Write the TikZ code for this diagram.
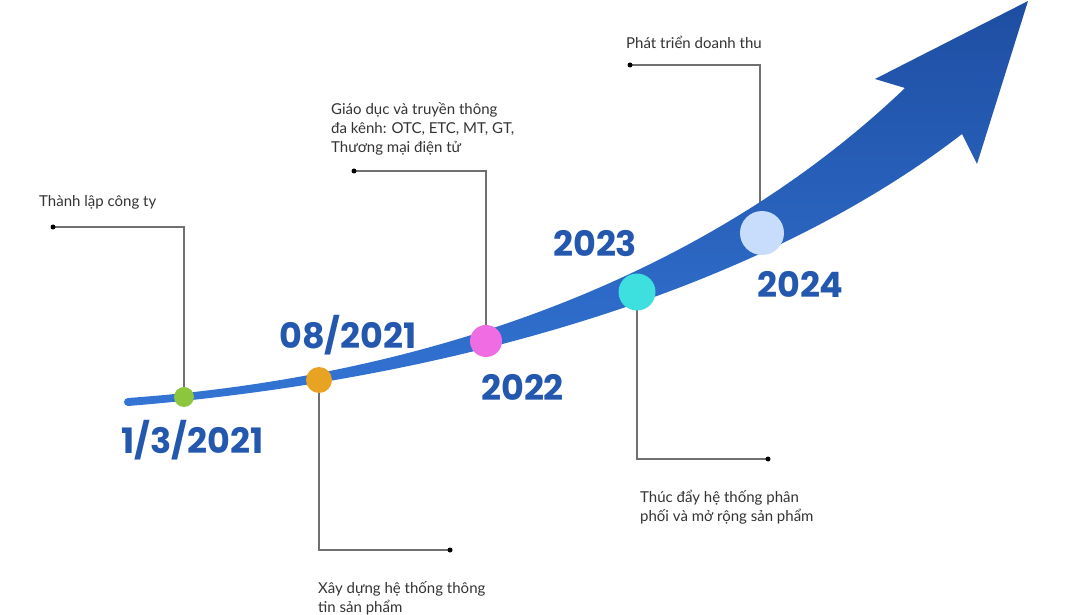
\documentclass[tikz,border=0pt]{standalone}
\usepackage{fontspec}
\setmainfont{Lato}
\newfontfamily\yearfont{Poppins}
\usetikzlibrary{backgrounds}
\definecolor{bandlight}{HTML}{3374D4}
\definecolor{banddark}{HTML}{1E4EA2}
\definecolor{yearblue}{HTML}{2358AE}
\definecolor{leadgray}{HTML}{707070}
\definecolor{textgray}{HTML}{333333}
\definecolor{mgreen}{HTML}{8CC63F}
\definecolor{morange}{HTML}{E8A323}
\definecolor{mpink}{HTML}{F06CE2}
\definecolor{mcyan}{HTML}{3EDFDF}
\definecolor{mlight}{HTML}{C8DCFB}
\tikzset{
  lead/.style={draw=leadgray, line width=1.4pt},
  enddot/.style={circle, fill=black, inner sep=0pt, minimum size=5pt},
  milestone/.style={circle, inner sep=0pt, minimum size=#1},
  lbl/.style={font=\fontsize{15}{19}\selectfont, text=textgray, anchor=base west, inner sep=0pt, align=left},
  yearlbl/.style={font=\yearfont\bfseries\fontsize{35}{35}\selectfont, text=yearblue, anchor=base west, inner sep=0pt}
}
\begin{document}
\begin{tikzpicture}[x=1pt,y=-1pt]
\useasboundingbox (0,0) rectangle (1072,615);
% milestones
\node[milestone=20pt, fill=mgreen] (m1) at (184,397) {};
\node[milestone=26pt, fill=morange] (m2) at (319,380) {};
\node[milestone=32pt, fill=mpink] (m3) at (486,341) {};
\node[milestone=37pt, fill=mcyan] (m4) at (637,292) {};
\node[milestone=44pt, fill=mlight] (m5) at (762,233) {};
% leader ends
\node[enddot] (e1) at (53,227) {};
\node[enddot] (e2) at (450,550) {};
\node[enddot] (e3) at (354,171) {};
\node[enddot] (e4) at (768,459) {};
\node[enddot] (e5) at (630,65) {};
% texts (base = last line)
\node[lbl] (t1) at (39,207) {Thành lập công ty};
\node[lbl] (t2) at (318,612) {Xây dựng hệ thống thông\\tin sản phẩm};
\node[lbl] (t3) at (331,153) {Giáo dục và truyền thông\\đa kênh: OTC, ETC, MT, GT,\\Thương mại điện tử};
\node[lbl] (t4) at (640,521) {Thúc đẩy hệ thống phân\\phối và mở rộng sản phẩm};
\node[lbl] (t5) at (626,49) {Phát triển doanh thu};
% years
\node[yearlbl] (y1) at (121,453) {1/3/2021};
\node[yearlbl] (y2) at (279,348) {08/2021};
\node[yearlbl] (y3) at (481,400) {2022};
\node[yearlbl] (y4) at (553,257) {2023};
\node[yearlbl] (y5) at (757,298) {2024};
\begin{scope}[on background layer]
  \draw[lead] (m1.center) |- (e1.center);
  \draw[lead] (m2.center) |- (e2.center);
  \draw[lead] (m3.center) |- (e3.center);
  \draw[lead] (m4.center) |- (e4.center);
  \draw[lead] (760,233) |- (e5.center);
  \shade[top color=banddark, bottom color=bandlight]
    (128,398) .. controls (450,375) and (720,265) .. (905,88)
    -- (875,79) -- (1028,1) -- (977,164) -- (962,134)
    .. controls (760,290) and (450,380) .. (128,406) -- cycle;
  \fill[bandlight] (128,402) circle[radius=4pt];
\end{scope}
\end{tikzpicture}
\end{document}
